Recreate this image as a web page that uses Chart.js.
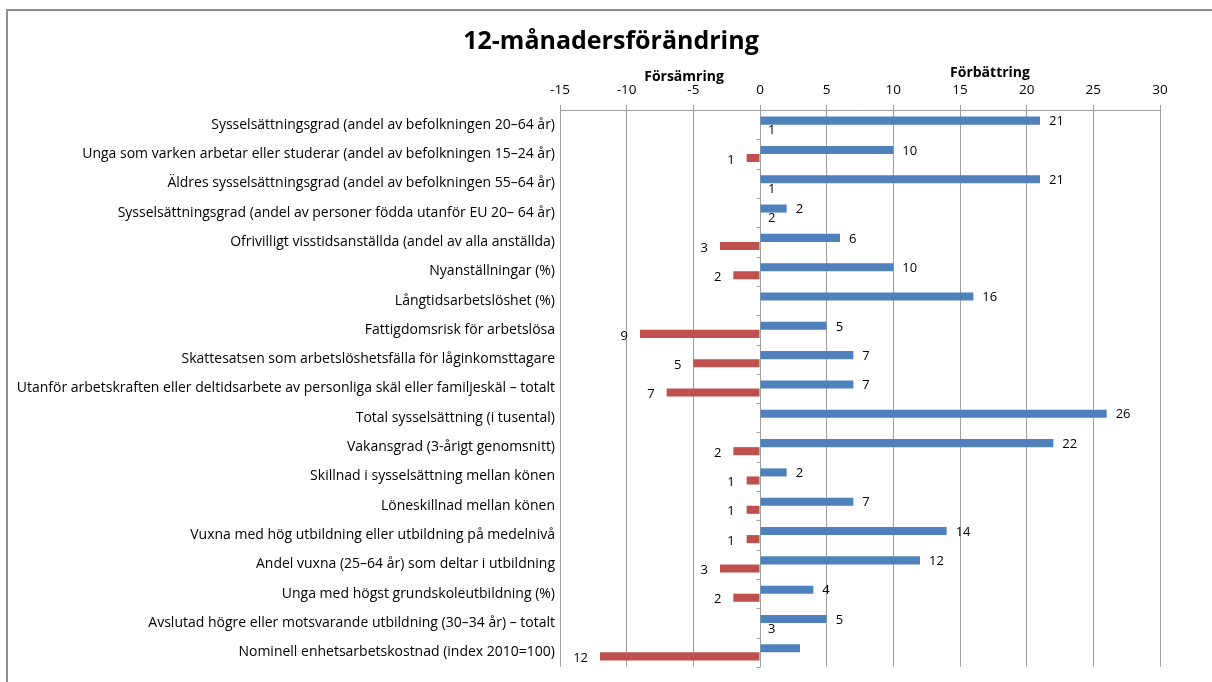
<!DOCTYPE html>
<html lang="sv">
  <head>
    <meta charset="UTF-8" />
    <script src="https://cdn.jsdelivr.net/npm/chart.js@4/dist/chart.umd.min.js"></script>
    <title>12-månadersförändring</title>
    <style>
      body { margin: 0; background: #fff; overflow: hidden; }
      .wrap { position: relative; width: 1212px; height: 682px; }
      .frame {
        position: absolute; left: 6px; top: 9px; right: 0; bottom: 0;
        border-top: 2px solid #8e8e8e; border-left: 2px solid #8e8e8e;
        pointer-events: none;
      }
    </style>
  </head>
  <body>
    <div class="wrap">
      <canvas id="myChart"></canvas>
      <div class="frame"></div>
    </div>

    <script>
      var fontFam = "'Open Sans', Lato, sans-serif";

      var categories = [
        "Sysselsättningsgrad (andel av befolkningen 20–64 år)",
        "Unga som varken arbetar eller studerar (andel av befolkningen 15–24 år)",
        "Äldres sysselsättningsgrad (andel av befolkningen 55–64 år)",
        "Sysselsättningsgrad (andel av personer födda utanför EU 20– 64 år)",
        "Ofrivilligt visstidsanställda (andel av alla anställda)",
        "Nyanställningar (%)",
        "Långtidsarbetslöshet (%)",
        "Fattigdomsrisk för arbetslösa",
        "Skattesatsen som arbetslöshetsfälla för låginkomsttagare",
        "Utanför arbetskraften eller deltidsarbete av personliga skäl eller familjeskäl – totalt",
        "Total sysselsättning (i tusental)",
        "Vakansgrad (3-årigt genomsnitt)",
        "Skillnad i sysselsättning mellan könen",
        "Löneskillnad mellan könen",
        "Vuxna med hög utbildning eller utbildning på medelnivå",
        "Andel vuxna (25–64 år) som deltar i utbildning",
        "Unga med högst grundskoleutbildning (%)",
        "Avslutad högre eller motsvarande utbildning (30–34 år) – totalt",
        "Nominell enhetsarbetskostnad (index 2010=100)"
      ];

      // förbättring (blue) and försämring (red)
      var better = [21, 10, 21, 2, 6, 10, 16, 5, 7, 7, 26, 22, 2, 7, 14, 12, 4, 5, 3];
      var worse = [0, -1, 0, 0, -3, -2, 0, -9, -5, -7, 0, -2, -1, -1, -1, -3, -2, 0, -12];

      // printed labels
      var betterLabels = [21, 10, 21, 2, 6, 10, 16, 5, 7, 7, 26, 22, 2, 7, 14, 12, 4, 5, null];
      var worseLabels = [1, 1, 1, 2, 3, 2, null, 9, 5, 7, null, 2, 1, 1, 1, 3, 2, 3, 12];

      var xTicks = [-15, -10, -5, 0, 5, 10, 15, 20, 25, 30];
      var chartTitle = "12-månadersförändring";
      var sideTitles = [
        { text: "Försämring", at: -5.7, y: 77 },
        { text: "Förbättring", at: 17.25, y: 73 }
      ];

      // value labels next to the bar ends
      var barLabels = {
        id: "barLabels",
        afterDatasetsDraw: function (chart) {
          var ctx = chart.ctx;
          var x0 = chart.scales.x.getPixelForValue(0);
          ctx.save();
          ctx.font = "13px " + fontFam;
          ctx.fillStyle = "#000";
          ctx.textBaseline = "middle";
          chart.getDatasetMeta(0).data.forEach(function (el, i) {
            if (betterLabels[i] == null) return;
            ctx.textAlign = "left";
            ctx.fillText(betterLabels[i], el.x + 9, el.y + 1);
          });
          chart.getDatasetMeta(1).data.forEach(function (el, i) {
            if (worseLabels[i] == null) return;
            if (worse[i] == 0) {
              ctx.textAlign = "left";
              ctx.fillText(worseLabels[i], x0 + 8, el.y + 2);
            } else {
              ctx.textAlign = "right";
              ctx.fillText(worseLabels[i], el.x - 12, el.y + 2);
            }
          });
          ctx.restore();
        }
      };

      // title, side titles, small tick marks on the zero axis
      var extras = {
        id: "extras",
        afterDraw: function (chart) {
          var ctx = chart.ctx;
          var xs = chart.scales.x;
          var x0 = Math.round(xs.getPixelForValue(0)) + 0.5;
          var step = (chart.chartArea.bottom - chart.chartArea.top) / categories.length;
          ctx.save();
          ctx.strokeStyle = "#a0a0a0";
          ctx.lineWidth = 1;
          ctx.beginPath();
          for (var i = 0; i <= categories.length; i++) {
            var y = Math.round(chart.chartArea.top + i * step) + 0.5;
            ctx.moveTo(x0 - 4, y);
            ctx.lineTo(x0, y);
          }
          ctx.stroke();

          ctx.fillStyle = "#000";
          ctx.textAlign = "center";
          ctx.textBaseline = "middle";
          ctx.font = "bold 25px " + fontFam;
          ctx.fillText(chartTitle, 611, 42);
          ctx.font = "bold 14px " + fontFam;
          sideTitles.forEach(function (t) {
            ctx.fillText(t.text, xs.getPixelForValue(t.at), t.y);
          });
          ctx.restore();
        }
      };

      new Chart("myChart", {
        type: "bar",
        data: {
          labels: categories,
          datasets: [
            {
              data: better,
              backgroundColor: "#4f81bd",
              borderWidth: 0,
              barPercentage: 1,
              categoryPercentage: 0.55
            },
            {
              data: worse,
              backgroundColor: "#c0504d",
              borderWidth: 0,
              barPercentage: 1,
              categoryPercentage: 0.55
            }
          ]
        },
        options: {
          indexAxis: "y",
          responsive: true,
          maintainAspectRatio: false,
          animation: false,
          layout: { padding: { left: 0, right: 52, top: 0, bottom: 15 } },
          plugins: {
            legend: { display: false },
            tooltip: { enabled: false },
            title: { display: false }
          },
          scales: {
            x: {
              position: "top",
              min: -15,
              max: 30,
              afterBuildTicks: function (s) {
                s.ticks = xTicks.map(function (v) { return { value: v }; });
              },
              afterFit: function (s) { s.height = 110; },
              grid: { color: "#a0a0a0", tickLength: 5 },
              border: { color: "#a0a0a0" },
              ticks: {
                padding: 7,
                color: "#000",
                font: { family: fontFam, size: 13.5 }
              }
            },
            y: {
              afterFit: function (s) { s.width = 560; },
              grid: { display: false, drawTicks: false },
              border: { display: false },
              ticks: {
                autoSkip: false,
                padding: 5,
                color: "#000",
                font: { family: fontFam, size: 14 }
              }
            }
          }
        },
        plugins: [barLabels, extras]
      });
    </script>
  </body>
</html>
